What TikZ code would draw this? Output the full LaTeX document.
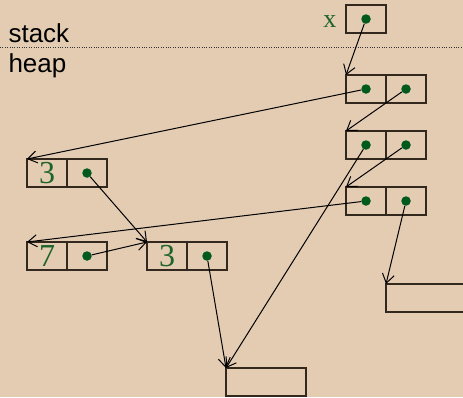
\documentclass[tikz,border=0pt]{standalone}
\usepackage{fontspec}
\setmainfont{Liberation Serif}
\setsansfont{Liberation Sans}
\usetikzlibrary{arrows.meta}

\definecolor{paper}{RGB}{228,204,179}
\definecolor{valgreen}{RGB}{30,100,40}
\definecolor{dotgreen}{RGB}{0,90,30}
\definecolor{boxline}{RGB}{50,40,30}

\tikzset{
  cell/.style={draw=boxline, line width=1.3pt, minimum width=40pt, minimum height=28pt,
    inner sep=0pt, outer sep=0pt, anchor=north west, text=valgreen,
    font=\fontsize{32}{32}\selectfont},
  ref/.style={circle, fill=dotgreen, minimum size=9.5pt, inner sep=0pt},
  ptr/.style={-{Straight Barb[length=9pt,width=12pt]}, line width=1pt, black},
  area/.style={anchor=base west, font=\sffamily\fontsize{26}{26}\selectfont},
}

\begin{document}
\begin{tikzpicture}[x=1pt, y=-1pt]
    \clip (0,0) rectangle (463,397);
    \fill[paper] (0,0) rectangle (463,397);

    % stack / heap
    \draw[dotted, gray!40!black] (0,47) -- (463,47);
    \node[area] (stk) at (5,42) {stack};
    \node[area] (hp) at (5,72) {heap};

    % variable x
    \node[cell] (xv) at (346,5) {};
    \node[anchor=base east, text=valgreen, font=\fontsize{26}{26}\selectfont] (xlab) at (340,27) {x};

    % list cells on the right
    \node[cell] (a1) at (346,75) {};
    \node[cell] (a2) at (386,75) {};
    \node[cell] (b1) at (346,131) {};
    \node[cell] (b2) at (386,131) {};
    \node[cell] (c1) at (346,187) {};
    \node[cell] (c2) at (386,187) {};

    % number cells
    \node[cell] (p1) at (27,159) {3};
    \node[cell] (p2) at (67,159) {};
    \node[cell] (q1) at (27,242) {7};
    \node[cell] (q2) at (67,242) {};
    \node[cell] (r1) at (147,242) {3};
    \node[cell] (r2) at (187,242) {};

    % empty targets
    \node[cell, minimum width=80pt] (s) at (226,368) {};
    \node[cell, minimum width=90pt] (t) at (386,284) {};

    % references
    \node[ref] (xd) at (xv) {};
    \node[ref] (a1d) at (a1) {};
    \node[ref] (a2d) at (a2) {};
    \node[ref] (b1d) at (b1) {};
    \node[ref] (b2d) at (b2) {};
    \node[ref] (c1d) at (c1) {};
    \node[ref] (c2d) at (c2) {};
    \node[ref] (p2d) at (p2) {};
    \node[ref] (q2d) at (q2) {};
    \node[ref] (r2d) at (r2) {};

    % pointers
    \draw[ptr] (xd) -- (a1.north west);
    \draw[ptr] (a1d) -- (p1.north west);
    \draw[ptr] (a2d) -- (b1.north west);
    \draw[ptr] (b1d) -- (s.north west);
    \draw[ptr] (b2d) -- (c1.north west);
    \draw[ptr] (c1d) -- (q1.north west);
    \draw[ptr] (c2d) -- (t.north west);
    \draw[ptr] (p2d) -- (r1.north west);
    \draw[ptr] (q2d) -- (r1.north west);
    \draw[ptr] (r2d) -- (s.north west);
\end{tikzpicture}
\end{document}
